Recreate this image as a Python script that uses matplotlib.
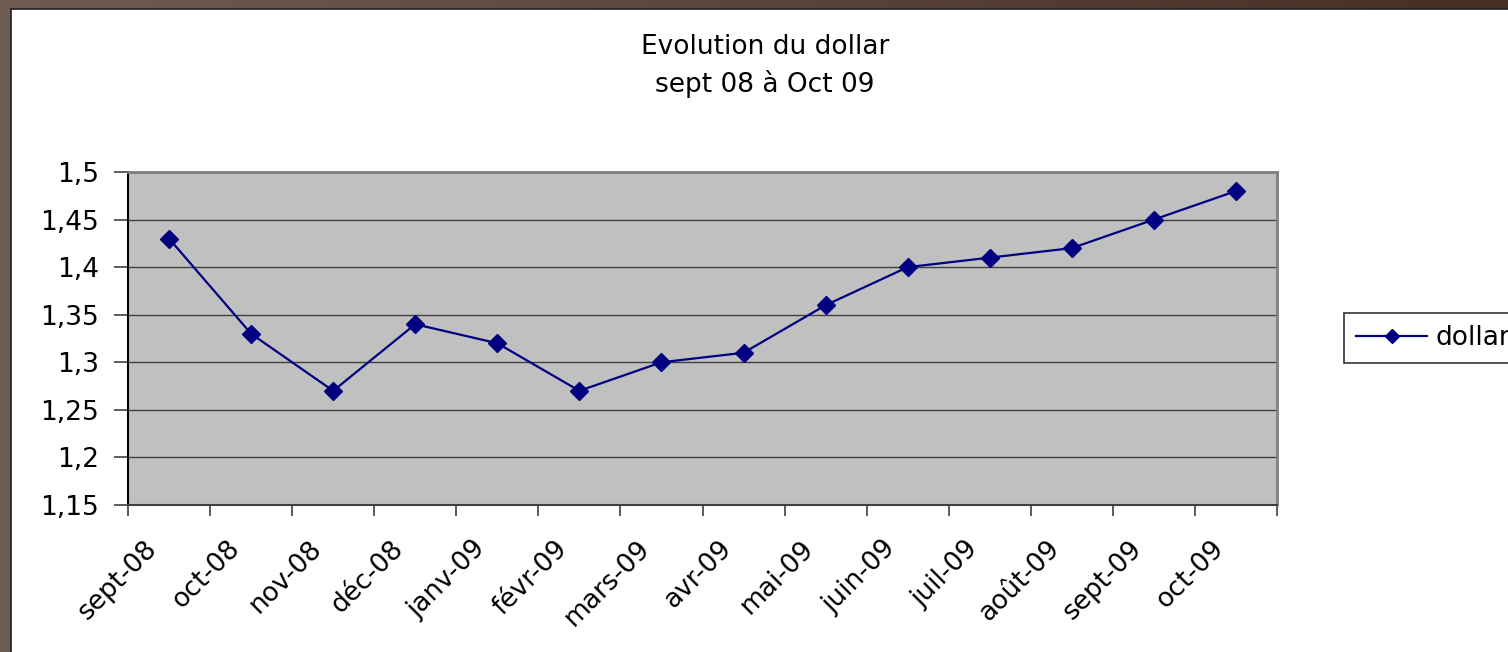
import numpy as np
import matplotlib
matplotlib.use("Agg")
import matplotlib.pyplot as plt
from matplotlib.patches import Rectangle
from matplotlib.ticker import FuncFormatter, FixedLocator

months = ["sept-08", "oct-08", "nov-08", "déc-08", "janv-09", "févr-09", "mars-09",
          "avr-09", "mai-09", "juin-09", "juil-09", "août-09", "sept-09", "oct-09"]
dollar = [1.43, 1.33, 1.27, 1.34, 1.32, 1.27, 1.30, 1.31, 1.36, 1.40, 1.41, 1.42, 1.45, 1.48]

plt.rcParams['font.family'] = ['DejaVu Sans']

W, H = 1508, 652
fig = plt.figure(figsize=(W / 100, H / 100), dpi=100)

# brown slide frame with gradient
bg = fig.add_axes([0, 0, 1, 1], zorder=-10)
grad = np.linspace(0, 1, 256)[None, :]
c0 = np.array([110, 92, 84]) / 255
c1 = np.array([70, 46, 34]) / 255
img = c0[None, None, :] * (1 - grad[..., None]) + c1[None, None, :] * grad[..., None]
bg.imshow(img, aspect='auto', extent=[0, 1, 0, 1])
bg.add_patch(Rectangle((11 / W, -0.01), 1, 1 - 9 / H + 0.01, facecolor='white',
                       edgecolor='#202020', lw=1.2))
bg.set_xlim(0, 1)
bg.set_ylim(0, 1)
bg.axis('off')

ax = fig.add_axes([128 / W, 1 - 505 / H, (1277 - 128) / W, (505 - 172) / H])
ax.set_facecolor('#C0C0C0')
x = np.arange(len(months))
ax.plot(x, dollar, color='#000080', lw=1.6, marker='D', markersize=9,
        markerfacecolor='#000080', markeredgecolor='#000080', label='dollar', zorder=3)

ax.set_xlim(-0.5, len(months) - 0.5)
ax.set_ylim(1.15, 1.5)
ax.set_yticks(np.arange(1.15, 1.5001, 0.05))
ax.yaxis.set_major_formatter(FuncFormatter(lambda v, p: f"{v:.2f}".rstrip('0').rstrip('.').replace('.', ',')))
ax.grid(axis='y', color='#404040', lw=1)
ax.set_axisbelow(True)

# labels sit a little left of the category centre, as in the Excel original
ax.set_xticks(x - 0.3)
ax.set_xticklabels(months, rotation=45, ha='right', rotation_mode='anchor')
ax.xaxis.set_minor_locator(FixedLocator(np.arange(-0.5, len(months), 1.0)))
ax.tick_params(axis='x', which='major', length=0, labelsize=19, pad=22)
ax.tick_params(axis='x', which='minor', length=8, width=1.2, color='#404040')
ax.tick_params(axis='y', length=10, width=1.2, color='#404040', labelsize=19, pad=11)

for s in ['top', 'right']:
    ax.spines[s].set_color('#808080')
    ax.spines[s].set_linewidth(2)
ax.spines['left'].set_color('black')
ax.spines['left'].set_linewidth(1.5)
ax.spines['bottom'].set_color('#404040')
ax.spines['bottom'].set_linewidth(1.5)

fig.text(765 / W, 1 - 66 / H, "Evolution du dollar\nsept 08 à Oct 09", ha='center',
         va='center', fontsize=19, linespacing=1.5)

leg = fig.legend(loc='upper left', bbox_to_anchor=(1344 / W, 1 - 313 / H), fontsize=19,
                 frameon=True, fancybox=False, handlelength=2.7, handletextpad=0.3,
                 borderpad=0.45, borderaxespad=0, markerscale=0.8)
leg.get_frame().set_edgecolor('black')
leg.get_frame().set_linewidth(1.2)

fig.savefig('out.png', dpi=100)
